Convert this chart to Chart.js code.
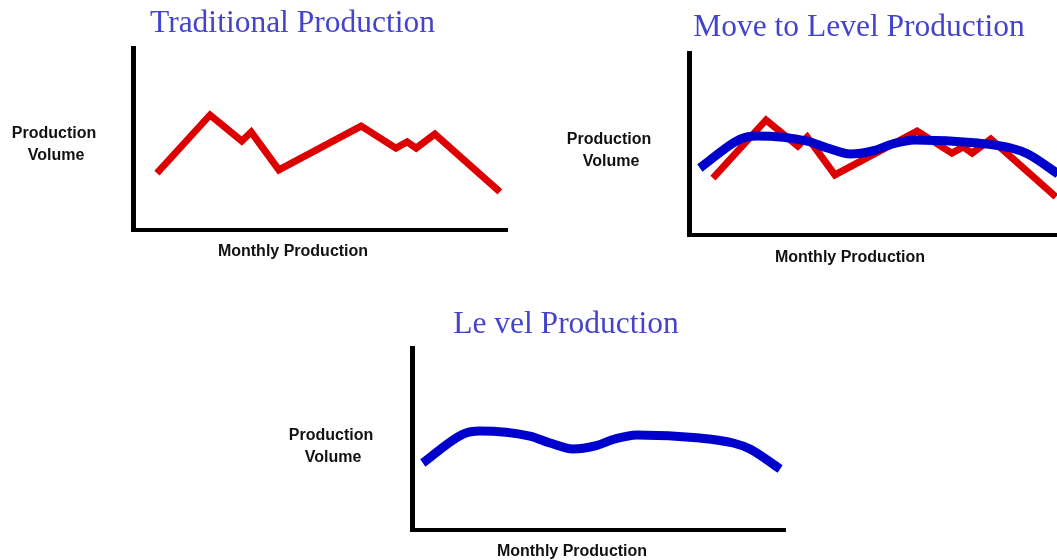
<!DOCTYPE html>
<html>
<head>
<meta charset="utf-8">
<script src="https://cdn.jsdelivr.net/npm/chart.js@4.4.1/dist/chart.umd.min.js"></script>
<style>
  html, body { margin:0; padding:0; background:#fff; overflow:hidden; width:1057px; height:560px; }
  canvas { position:absolute; left:0; top:0; }
</style>
</head>
<body>
<canvas id="tradChart" width="1100" height="560"></canvas>
<canvas id="moveChart" width="1100" height="560"></canvas>
<canvas id="levelChart" width="1100" height="560"></canvas>
<script>
// month position (0-100 across the axis) and relative production volume (0-100)
const tradMonths  = [6.4, 20.6, 29.1, 31.6, 39, 61, 70.3, 73.3, 75.7, 80.7, 98.1];
const tradVolume  = [31.3, 63.2, 48.9, 53.8, 33, 57.1, 45, 48.4, 45, 52.7, 20.9];
const levelMonths = [2.9, 13.7, 18.2, 31.6, 37, 43.2, 49.1, 54.4, 60.3, 77.2, 86.1, 90.6, 98.7];
const levelVolume = [36.8, 52.7, 54.4, 51.6, 47.8, 44.5, 46.2, 50, 52.2, 50.5, 47.8, 44.5, 33.5];

const yLabel = ['Production', 'Volume'];
const xLabel = 'Monthly Production';

const toPoints = (xs, ys) => xs.map((x, i) => ({ x, y: ys[i] }));

const redSet  = () => ({ data: toPoints(tradMonths, tradVolume), borderColor:'#dd0000', borderWidth:7, pointRadius:0, tension:0, borderJoinStyle:'miter', fill:false });
const blueSet = () => ({ data: toPoints(levelMonths, levelVolume), borderColor:'#0000cc', borderWidth:9, pointRadius:0, cubicInterpolationMode:'monotone', fill:false });

// draws the serif title plus the horizontal axis captions
const sketchLabels = {
  id: 'sketchLabels',
  afterDraw(chart, args, o) {
    const ctx = chart.ctx;
    ctx.save();
    ctx.textAlign = 'center';
    ctx.textBaseline = 'middle';
    ctx.fillStyle = '#4343cc';
    ctx.font = "31.5px 'Liberation Serif', 'Times New Roman', serif";
    ctx.fillText(o.title, o.title_x, o.title_y);
    ctx.fillStyle = '#111';
    ctx.font = "bold 16px 'Liberation Sans', Arial, sans-serif";
    ctx.fillText(yLabel[0], o.y_x, o.y_y);
    ctx.fillText(yLabel[1], o.y_x + 2, o.y_y + 22);
    ctx.fillText(xLabel, o.x_x, o.x_y);
    ctx.restore();
  }
};

function makeChart(id, pad, datasets, labels) {
  return new Chart(document.getElementById(id).getContext('2d'), {
    type:'line',
    data:{ datasets },
    options:{
      responsive:false, animation:false,
      layout:{ padding:pad, autoPadding:false },
      plugins:{ legend:{display:false}, tooltip:{enabled:false}, sketchLabels:labels },
      scales:{
        x:{ type:'linear', min:0, max:100, grid:{display:false, drawTicks:false}, ticks:{display:false}, border:{color:'#000', width:4} },
        y:{ type:'linear', min:0, max:100, grid:{display:false, drawTicks:false}, ticks:{display:false}, border:{color:'#000', width:5} }
      }
    },
    plugins:[sketchLabels]
  });
}

makeChart('tradChart', { left:133, top:48, right:593, bottom:330 }, [redSet()],
  { title:'Traditional Production', title_x:292.5, title_y:24, y_x:54, y_y:134, x_x:293, x_y:252 });

makeChart('moveChart', { left:689, top:53, right:37, bottom:325 }, [blueSet(), redSet()],
  { title:'Move to Level Production', title_x:859, title_y:28, y_x:609, y_y:139.5, x_x:850, x_y:258 });

makeChart('levelChart', { left:412, top:348, right:315, bottom:30 }, [blueSet()],
  { title:'Le vel Production', title_x:566, title_y:325, y_x:331, y_y:435.5, x_x:572, x_y:551.5 });
</script>
</body>
</html>
